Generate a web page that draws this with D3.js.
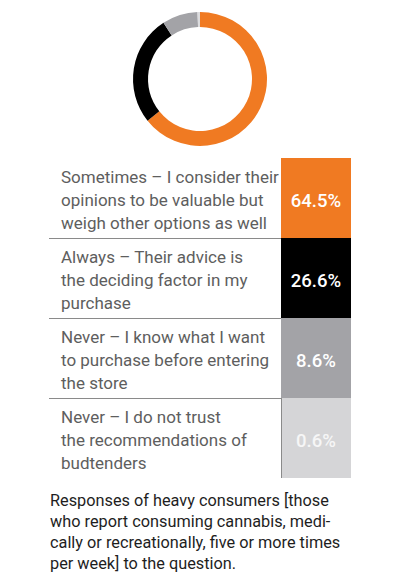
<!DOCTYPE html>
<html><head><meta charset="utf-8">
<script src="https://cdn.jsdelivr.net/npm/d3@7"></script>
<style>
html,body{margin:0;padding:0;background:#fff;}
svg{display:block;}
</style></head>
<body>
<svg id="chart" width="400" height="577"></svg>
<script>
const categories = [
  "Sometimes – I consider their|opinions to be valuable but|weigh other options as well",
  "Always – Their advice is|the deciding factor in my|purchase",
  "Never – I know what I want|to purchase before entering|the store",
  "Never – I do not trust|the recommendations of|budtenders"
];
const values = [64.5, 26.6, 8.6, 0.6];
const valueLabels = ["64.5%", "26.6%", "8.6%", "0.6%"];
const colors = ["#f07a22", "#000000", "#a3a3a7", "#d5d5d7"];
const captionLines = [
  "Responses of heavy consumers [those",
  "who report consuming cannabis, medi-",
  "cally or recreationally, five or more times",
  "per week] to the question."
];

const FONT = "Roboto, 'Liberation Sans', sans-serif";
const svg = d3.select("#chart");

// Donut
const pie = d3.pie().sort(null).value(d => d);
const arc = d3.arc().innerRadius(52).outerRadius(67);
const donut = svg.append("g").attr("transform", "translate(200,79)");
donut.selectAll("path").data(pie(values)).join("path")
  .attr("d", arc)
  .attr("fill", (d, i) => i === 3 ? "#dcdcde" : colors[i]);

// Table
const y = d3.scaleBand().domain(categories).range([158, 478]).paddingInner(0);
const barX0 = 281, barX1 = 351;

const rows = svg.append("g").selectAll("g").data(categories).join("g")
  .attr("transform", d => `translate(0,${y(d)})`);

rows.append("rect")
  .attr("x", barX0).attr("y", 0)
  .attr("width", barX1 - barX0).attr("height", y.bandwidth())
  .attr("fill", (d, i) => colors[i]);

rows.each(function(d, i) {
  const g = d3.select(this);
  const lines = d.split("|");
  g.append("text")
    .attr("font-family", FONT).attr("font-size", 17)
    .attr("fill", "#5e5e5e")
    .selectAll("tspan").data(lines).join("tspan")
    .attr("x", 61).attr("y", (l, j) => 25 + j * 23)
    .text(l => l);
  g.append("text")
    .attr("x", (barX0 + barX1) / 2).attr("y", y.bandwidth() / 2 + 9)
    .attr("text-anchor", "middle")
    .attr("font-family", FONT).attr("font-size", 18.5).attr("font-weight", 500)
    .attr("fill", i === 3 ? "#f6f6f6" : "#ffffff")
    .text(valueLabels[i]);
});

// separators
svg.append("g").selectAll("line").data(categories.slice(1)).join("line")
  .attr("x1", 49).attr("x2", barX0)
  .attr("y1", d => y(d) + 0.5).attr("y2", d => y(d) + 0.5)
  .attr("stroke", "#8a8a8a").attr("stroke-width", 1.2);
svg.append("line")
  .attr("x1", barX0 + 0.5).attr("x2", barX0 + 0.5)
  .attr("y1", y(categories[3])).attr("y2", 478)
  .attr("stroke", "#8a8a8a").attr("stroke-width", 1);

// caption
svg.append("text")
  .attr("font-family", FONT).attr("font-size", 16.3)
  .attr("fill", "#1e1e1e")
  .selectAll("tspan").data(captionLines).join("tspan")
  .attr("x", 50).attr("y", (l, j) => 506 + j * 21)
  .text(l => l);
</script>
</body></html>
